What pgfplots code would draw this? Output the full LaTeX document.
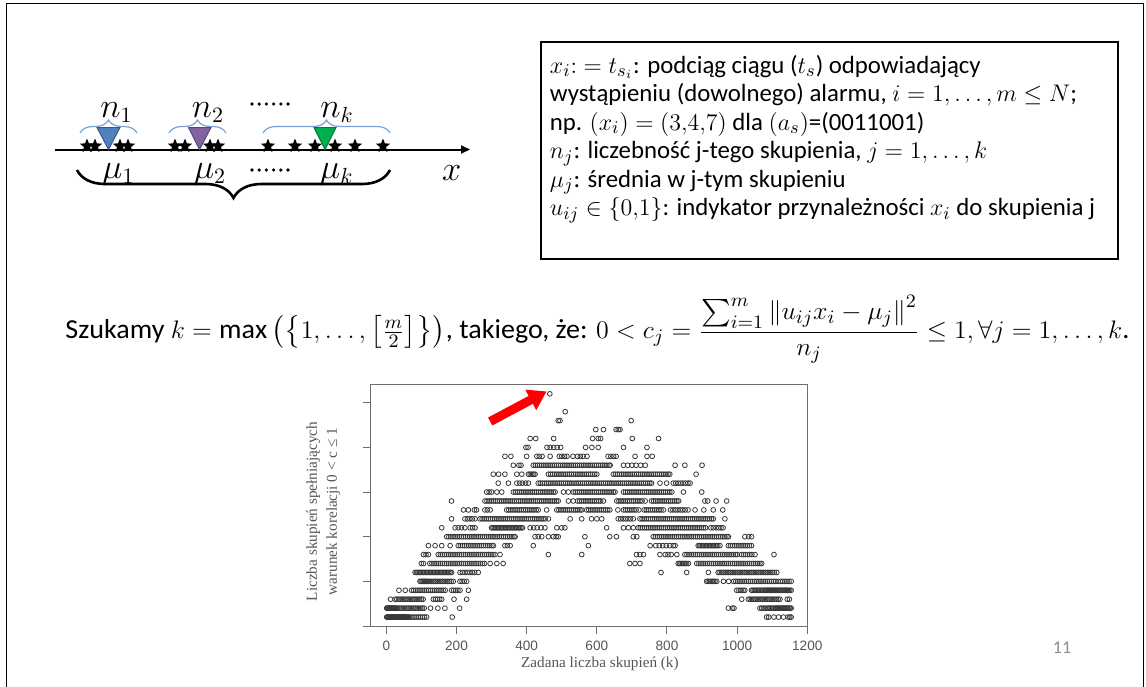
\documentclass[border=0pt]{standalone}
\usepackage{amsmath,amssymb}
\usepackage{graphicx}
\usepackage{fontspec}
\setmainfont{Carlito}
\newfontfamily\lsans{Liberation Sans}
\newfontfamily\lserif{Liberation Serif}
\usepackage{pgfplots}
\pgfplotsset{compat=1.18}
\usetikzlibrary{arrows.meta,decorations.pathreplacing,shapes.geometric}
\definecolor{trblue}{RGB}{79,129,189}
\definecolor{trpurple}{RGB}{128,100,162}
\definecolor{trgreen}{RGB}{0,176,80}
\definecolor{brblue}{RGB}{120,160,215}
\definecolor{plotgray}{RGB}{110,110,110}
\definecolor{labgray}{RGB}{85,85,85}
\definecolor{numgray}{RGB}{140,140,140}
\pgfplotsset{pts/.style={only marks, mark=o, mark size=1.2pt, black!78, mark options={line width=0.4pt}}}

\begin{document}
\begin{tikzpicture}[x=0.5pt,y=-0.5pt]
\useasboundingbox (0,0) rectangle (1146,686);
% slide frame
\draw[line width=0.9pt] (6.5,690) -- (6.5,3.5) -- (1143.5,3.5) -- (1143.5,690);

% --- cluster sketch, top left
\draw[line width=1pt,-{Triangle[length=4.5pt,width=4pt]}] (55,149.5) -- (470,149.5);
\foreach \sx in {87,95,120,128,175,185,210,218,268,295,315,335,355,383}
  \node[star,star points=5,star point ratio=2.3,fill=black,inner sep=0pt,minimum size=7.5pt] at (\sx,146) {};
\filldraw[fill=trblue,draw=trblue!70!black,line width=0.5pt] (97,127.5) -- (120,127.5) -- (108.5,149.5) -- cycle;
\filldraw[fill=trpurple,draw=trpurple!70!black,line width=0.5pt] (188.5,127.5) -- (211,127.5) -- (199.5,149.5) -- cycle;
\filldraw[fill=trgreen,draw=trgreen!70!black,line width=0.5pt] (314,127.5) -- (336,127.5) -- (325,149.5) -- cycle;
\draw[brblue,line width=0.6pt,decorate,decoration={brace,amplitude=6.5pt}] (80,133) -- (137,133);
\draw[brblue,line width=0.6pt,decorate,decoration={brace,amplitude=6.5pt}] (169,133) -- (226,133);
\draw[brblue,line width=0.6pt,decorate,decoration={brace,amplitude=6.5pt}] (263,133) -- (390,133);
\draw[black,line width=1.3pt,decorate,decoration={brace,amplitude=14pt}] (390,170) -- (77,170);
\node[anchor=base,inner sep=0pt] at (116.5,117) {\fontsize{16}{18}\selectfont$n_1$};
\node[anchor=base,inner sep=0pt] at (208,117) {\fontsize{16}{18}\selectfont$n_2$};
\node[anchor=base,inner sep=0pt] at (337,117) {\fontsize{16}{18}\selectfont$n_k$};
\node[anchor=base,inner sep=0pt] at (118.3,178) {\fontsize{16}{18}\selectfont$\mu_1$};
\node[anchor=base,inner sep=0pt] at (210,178) {\fontsize{16}{18}\selectfont$\mu_2$};
\node[anchor=base,inner sep=0pt] at (336.7,178) {\fontsize{16}{18}\selectfont$\mu_k$};
\node[anchor=base,inner sep=0pt] at (451.7,180) {\fontsize{16}{18}\selectfont$x$};
\foreach \d in {0,...,5} {
  \fill (252+\d*7.2,104) circle (1.8);
  \fill (252+\d*7.2,170) circle (1.8);
}

% --- definitions box, top right
\draw[line width=0.8pt] (541,42) rectangle (1118,259);
\begin{scope}[every node/.style={anchor=base west,inner sep=0pt,font=\fontsize{12.4}{14}\selectfont}]
\node at (549.5,73) {$x_i{:}=t_{s_i}$: podciąg ciągu ($t_s$) odpowiadający};
\node at (549.5,101.5) {wystąpieniu (dowolnego) alarmu, $i=1,\dots,m\le N$;};
\node at (549.5,130) {np. $(x_i)=(3{,}4{,}7)$ dla $(a_s)$=(0011001)};
\node at (549.5,158.5) {$n_j$: liczebność j-tego skupienia, $j=1,\dots,k$};
\node at (549.5,187) {$\mu_j$: średnia w j-tym skupieniu};
\node at (549.5,215.5) {$u_{ij}\in\{0{,}1\}$: indykator przynależności $x_i$ do skupienia j};
\end{scope}

% --- criterion line
\node[anchor=north,inner sep=0pt] at (597.5,295) {\resizebox*{532pt}{34pt}{\fontsize{13}{15}\selectfont Szukamy $k=\max\left(\left\{1,\dots,\left[\frac{m}{2}\right]\right\}\right)$, takiego, że: $0<c_j=\dfrac{\sum_{i=1}^{m}\left\|u_{ij}x_i-\mu_j\right\|^2}{n_j}\le 1,\forall j=1,\dots,k$.}};

% page number
\node[text=numgray,font=\fontsize{9}{10}\selectfont] at (1062,648) {11};

% --- scatter plot
\begin{axis}[
  at={(185.35pt,-313pt)}, anchor=south west,
  scale only axis, width=218.3pt, height=121pt,
  xmin=-44.5, xmax=1200, ymin=0, ymax=27.1,
  xtick={0,200,400,600,800,1000,1200},
  ytick={0,5,10,15,20,25}, yticklabels={},
  xtick pos=bottom, ytick pos=left,
  tick align=outside, major tick length=4pt,
  axis line style={plotgray,line width=0.5pt},
  tick style={plotgray,line width=0.5pt},
  /pgf/number format/assume math mode=true,
  /pgf/number format/1000 sep={},
  xticklabel style={font=\lsans\fontsize{6.8}{7}\selectfont,text=labgray},
  xlabel={Zadana liczba skupień (k)},
  xlabel style={font=\lserif\fontsize{7.6}{9}\selectfont,text=labgray,at={(axis description cs:0.525,-0.157)},anchor=center},
  ylabel={Liczba skupień spełniających\\warunek korelacji 0 < c ≤ 1},
  ylabel style={font=\lserif\fontsize{7.6}{10}\selectfont,text=labgray,align=center,at={(axis description cs:-0.109,0.473)},anchor=center},
  clip=false,
]
% y = 1
\addplot[pts] coordinates {(1,1)(3,1)(5,1)(7,1)(9,1)(11,1)(13,1)(15,1)(17,1)(19,1)(21,1)(23,1)(25,1)(27,1)(29,1)(31,1)(33,1)(35,1)(37,1)(39,1)(41,1)(43,1)(45,1)(47,1)(49,1)(51,1)(53,1)(55,1)(57,1)(59,1)(61,1)(63,1)(67,1)(73,1)(79,1)(85,1)(91,1)(97,1)(103,1)(109,1)(115,1)(188,1)(1084,1)(1090,1)(1105,1)(1118,1)(1132,1)(1145,1)(1150,1)(1154,1)};
% y = 2
\addplot[pts] coordinates {(1,2)(3,2)(5,2)(7,2)(9,2)(11,2)(13,2)(15,2)(17,2)(19,2)(21,2)(23,2)(25,2)(27,2)(29,2)(33,2)(38,2)(43,2)(48,2)(53,2)(58,2)(63,2)(68,2)(73,2)(78,2)(83,2)(88,2)(93,2)(98,2)(103,2)(108,2)(126,2)(147,2)(167,2)(209,2)(975,2)(986,2)(991,2)(1065,2)(1070,2)(1075,2)(1080,2)(1085,2)(1089,2)(1093,2)(1097,2)(1101,2)(1105,2)(1109,2)(1112,2)(1115,2)(1118,2)(1121,2)(1124,2)(1127,2)(1130,2)(1133,2)(1136,2)(1139,2)(1142,2)(1145,2)(1148,2)(1151,2)(1154,2)};
% y = 3
\addplot[pts] coordinates {(12,3)(25,3)(30,3)(35,3)(40,3)(45,3)(50,3)(55,3)(60,3)(65,3)(70,3)(75,3)(80,3)(85,3)(90,3)(95,3)(100,3)(105,3)(134,3)(140,3)(146,3)(152,3)(158,3)(193,3)(229,3)(1013,3)(1032,3)(1037,3)(1042,3)(1047,3)(1052,3)(1057,3)(1062,3)(1067,3)(1072,3)(1077,3)(1082,3)(1087,3)(1092,3)(1097,3)(1102,3)(1107,3)(1112,3)(1117,3)(1122,3)(1143,3)(1149,3)};
% y = 4
\addplot[pts] coordinates {(36,4)(54,4)(72,4)(78,4)(84,4)(90,4)(96,4)(102,4)(108,4)(114,4)(120,4)(126,4)(132,4)(138,4)(144,4)(150,4)(156,4)(162,4)(168,4)(186,4)(192,4)(198,4)(204,4)(210,4)(234,4)(999,4)(1005,4)(1011,4)(1017,4)(1022,4)(1041,4)(1045,4)(1049,4)(1053,4)(1057,4)(1061,4)(1065,4)(1069,4)(1073,4)(1077,4)(1080,4)(1083,4)(1086,4)(1089,4)(1092,4)(1095,4)(1098,4)(1101,4)(1104,4)(1107,4)(1110,4)(1113,4)(1116,4)(1119,4)(1122,4)(1125,4)(1128,4)(1131,4)(1134,4)(1137,4)(1140,4)(1143,4)(1146,4)(1150,4)(1154,4)};
% y = 5
\addplot[pts] coordinates {(96,5)(99,5)(102,5)(105,5)(108,5)(111,5)(114,5)(117,5)(120,5)(125,5)(130,5)(135,5)(140,5)(145,5)(150,5)(155,5)(160,5)(165,5)(170,5)(175,5)(180,5)(185,5)(191,5)(210,5)(216,5)(222,5)(229,5)(913,5)(917,5)(921,5)(925,5)(929,5)(933,5)(937,5)(942,5)(961,5)(976,5)(990,5)(996,5)(1002,5)(1008,5)(1014,5)(1020,5)(1026,5)(1032,5)(1038,5)(1044,5)(1050,5)(1056,5)(1062,5)(1068,5)(1074,5)(1080,5)(1086,5)(1092,5)(1098,5)(1104,5)(1110,5)(1117,5)(1124,5)(1130,5)(1136,5)(1142,5)(1148,5)(1154,5)};
% y = 6
\addplot[pts] coordinates {(82,6)(86,6)(90,6)(94,6)(98,6)(102,6)(106,6)(110,6)(114,6)(118,6)(122,6)(126,6)(130,6)(134,6)(138,6)(142,6)(146,6)(150,6)(154,6)(158,6)(162,6)(166,6)(170,6)(174,6)(178,6)(182,6)(186,6)(210,6)(217,6)(224,6)(231,6)(238,6)(245,6)(252,6)(262,6)(783,6)(856,6)(918,6)(946,6)(951,6)(956,6)(961,6)(966,6)(971,6)(976,6)(981,6)(986,6)(991,6)(996,6)(1001,6)(1006,6)(1011,6)(1016,6)(1021,6)(1026,6)(1031,6)(1036,6)(1041,6)(1046,6)(1051,6)(1056,6)(1061,6)(1066,6)(1071,6)(1076,6)(1081,6)(1086,6)(1091,6)(1096,6)(1101,6)(1106,6)(1113,6)};
% y = 7
\addplot[pts] coordinates {(100,7)(106,7)(124,7)(130,7)(136,7)(142,7)(148,7)(154,7)(160,7)(166,7)(172,7)(178,7)(184,7)(190,7)(196,7)(202,7)(208,7)(214,7)(220,7)(226,7)(232,7)(238,7)(244,7)(250,7)(256,7)(262,7)(268,7)(274,7)(280,7)(296,7)(315,7)(333,7)(694,7)(709,7)(723,7)(832,7)(836,7)(840,7)(844,7)(848,7)(852,7)(856,7)(861,7)(885,7)(891,7)(897,7)(903,7)(909,7)(915,7)(921,7)(927,7)(933,7)(939,7)(945,7)(951,7)(957,7)(963,7)(969,7)(975,7)(981,7)(987,7)(993,7)(999,7)(1005,7)(1011,7)(1017,7)(1023,7)(1029,7)(1035,7)(1041,7)(1047,7)(1053,7)(1059,7)(1065,7)(1070,7)};
% y = 8
\addplot[pts] coordinates {(106,8)(113,8)(120,8)(148,8)(154,8)(160,8)(166,8)(172,8)(178,8)(184,8)(190,8)(196,8)(202,8)(208,8)(214,8)(220,8)(226,8)(232,8)(238,8)(244,8)(250,8)(256,8)(262,8)(268,8)(274,8)(280,8)(286,8)(292,8)(298,8)(304,8)(310,8)(324,8)(462,8)(557,8)(713,8)(723,8)(733,8)(780,8)(795,8)(803,8)(812,8)(828,8)(851,8)(857,8)(863,8)(869,8)(875,8)(881,8)(887,8)(893,8)(899,8)(905,8)(911,8)(917,8)(923,8)(929,8)(935,8)(941,8)(947,8)(953,8)(959,8)(965,8)(971,8)(977,8)(983,8)(989,8)(995,8)(1000,8)(1012,8)(1018,8)(1024,8)(1030,8)(1036,8)(1042,8)(1051,8)(1105,8)};
% y = 9
\addplot[pts] coordinates {(120,9)(139,9)(158,9)(182,9)(205,9)(211,9)(217,9)(223,9)(229,9)(235,9)(241,9)(247,9)(253,9)(259,9)(265,9)(271,9)(277,9)(283,9)(289,9)(295,9)(301,9)(305,9)(338,9)(345,9)(353,9)(419,9)(576,9)(752,9)(768,9)(778,9)(788,9)(798,9)(808,9)(818,9)(823,9)(889,9)(893,9)(897,9)(901,9)(905,9)(909,9)(913,9)(917,9)(921,9)(925,9)(929,9)(933,9)(937,9)(941,9)(945,9)(951,9)(975,9)(981,9)(987,9)(993,9)(999,9)(1005,9)(1011,9)(1017,9)(1023,9)(1029,9)(1035,9)(1041,9)};
% y = 10
\addplot[pts] coordinates {(172,10)(178,10)(184,10)(190,10)(196,10)(202,10)(208,10)(214,10)(220,10)(226,10)(232,10)(238,10)(244,10)(250,10)(256,10)(262,10)(268,10)(274,10)(280,10)(286,10)(292,10)(298,10)(304,10)(310,10)(316,10)(322,10)(328,10)(334,10)(340,10)(346,10)(352,10)(358,10)(364,10)(367,10)(424,10)(433,10)(443,10)(462,10)(476,10)(484,10)(490,10)(566,10)(637,10)(656,10)(704,10)(714,10)(761,10)(767,10)(773,10)(779,10)(785,10)(791,10)(797,10)(803,10)(809,10)(815,10)(821,10)(827,10)(833,10)(839,10)(845,10)(851,10)(857,10)(863,10)(869,10)(875,10)(881,10)(887,10)(893,10)(899,10)(905,10)(911,10)(917,10)(923,10)(929,10)(935,10)(941,10)(947,10)(953,10)(959,10)(965,10)(971,10)(975,10)(1022,10)(1033,10)(1041,10)};
% y = 11
\addplot[pts] coordinates {(158,11)(196,11)(205,11)(214,11)(224,11)(239,11)(246,11)(253,11)(300,11)(304,11)(308,11)(312,11)(316,11)(320,11)(324,11)(328,11)(332,11)(336,11)(340,11)(344,11)(348,11)(352,11)(356,11)(360,11)(364,11)(368,11)(372,11)(376,11)(380,11)(384,11)(388,11)(410,11)(420,11)(430,11)(441,11)(452,11)(486,11)(500,11)(509,11)(628,11)(676,11)(690,11)(704,11)(718,11)(724,11)(730,11)(736,11)(742,11)(748,11)(754,11)(760,11)(766,11)(772,11)(778,11)(784,11)(790,11)(796,11)(802,11)(808,11)(814,11)(820,11)(826,11)(832,11)(838,11)(844,11)(850,11)(856,11)(862,11)(868,11)(874,11)(880,11)(886,11)(892,11)(898,11)(904,11)(910,11)(925,11)(932,11)(940,11)(947,11)(954,11)(960,11)};
% y = 12
\addplot[pts] coordinates {(186,12)(224,12)(231,12)(238,12)(245,12)(253,12)(267,12)(273,12)(279,12)(285,12)(291,12)(297,12)(303,12)(309,12)(315,12)(321,12)(327,12)(333,12)(339,12)(345,12)(351,12)(357,12)(363,12)(369,12)(375,12)(381,12)(387,12)(393,12)(399,12)(405,12)(411,12)(417,12)(423,12)(429,12)(435,12)(441,12)(447,12)(453,12)(462,12)(524,12)(557,12)(585,12)(600,12)(614,12)(661,12)(668,12)(675,12)(682,12)(689,12)(696,12)(704,12)(723,12)(729,12)(735,12)(741,12)(747,12)(753,12)(759,12)(765,12)(771,12)(777,12)(783,12)(789,12)(795,12)(801,12)(807,12)(813,12)(819,12)(825,12)(831,12)(837,12)(843,12)(849,12)(855,12)(861,12)(867,12)(873,12)(879,12)(885,12)(891,12)(897,12)(903,12)(909,12)(915,12)(921,12)(927,12)(932,12)(965,12)};
% y = 13
\addplot[pts] coordinates {(220,13)(234,13)(251,13)(257,13)(281,13)(288,13)(296,13)(343,13)(349,13)(355,13)(361,13)(367,13)(373,13)(379,13)(385,13)(391,13)(397,13)(403,13)(409,13)(415,13)(421,13)(427,13)(433,13)(457,13)(486,13)(492,13)(498,13)(504,13)(510,13)(516,13)(522,13)(528,13)(534,13)(540,13)(546,13)(552,13)(557,13)(571,13)(577,13)(583,13)(589,13)(595,13)(601,13)(607,13)(613,13)(619,13)(625,13)(631,13)(637,13)(660,13)(676,13)(682,13)(688,13)(694,13)(700,13)(706,13)(712,13)(720,13)(735,13)(741,13)(747,13)(753,13)(759,13)(765,13)(771,13)(777,13)(783,13)(790,13)(810,13)(817,13)(824,13)(831,13)(838,13)(845,13)(852,13)(860,13)(880,13)(905,13)(932,13)(959,13)};
% y = 14
\addplot[pts] coordinates {(186,14)(281,14)(287,14)(293,14)(299,14)(305,14)(311,14)(317,14)(323,14)(329,14)(335,14)(341,14)(347,14)(353,14)(359,14)(365,14)(371,14)(377,14)(383,14)(389,14)(395,14)(401,14)(407,14)(413,14)(419,14)(425,14)(431,14)(437,14)(443,14)(449,14)(455,14)(461,14)(467,14)(473,14)(479,14)(485,14)(490,14)(519,14)(533,14)(545,14)(551,14)(557,14)(563,14)(569,14)(575,14)(581,14)(587,14)(593,14)(599,14)(605,14)(611,14)(619,14)(657,14)(663,14)(669,14)(675,14)(681,14)(687,14)(693,14)(699,14)(705,14)(711,14)(717,14)(723,14)(729,14)(738,14)(756,14)(762,14)(768,14)(774,14)(780,14)(786,14)(792,14)(798,14)(804,14)(810,14)(816,14)(822,14)(828,14)(833,14)(908,14)(916,14)(940,14)(970,14)};
% y = 15
\addplot[pts] coordinates {(286,15)(293,15)(300,15)(315,15)(329,15)(362,15)(368,15)(374,15)(380,15)(386,15)(392,15)(398,15)(404,15)(410,15)(416,15)(422,15)(428,15)(434,15)(440,15)(446,15)(452,15)(458,15)(464,15)(470,15)(476,15)(481,15)(505,15)(519,15)(533,15)(539,15)(545,15)(551,15)(557,15)(563,15)(569,15)(575,15)(581,15)(587,15)(593,15)(599,15)(605,15)(611,15)(617,15)(623,15)(629,15)(635,15)(641,15)(647,15)(652,15)(676,15)(682,15)(688,15)(694,15)(700,15)(706,15)(712,15)(718,15)(724,15)(730,15)(736,15)(742,15)(748,15)(754,15)(760,15)(766,15)(772,15)(778,15)(784,15)(790,15)(796,15)(802,15)(808,15)(814,15)(847,15)(899,15)};
% y = 16
\addplot[pts] coordinates {(319,16)(348,16)(372,16)(380,16)(388,16)(397,16)(405,16)(433,16)(439,16)(445,16)(451,16)(457,16)(463,16)(469,16)(475,16)(481,16)(487,16)(493,16)(499,16)(505,16)(511,16)(517,16)(523,16)(529,16)(535,16)(541,16)(547,16)(553,16)(559,16)(565,16)(571,16)(577,16)(583,16)(589,16)(595,16)(601,16)(607,16)(613,16)(619,16)(625,16)(631,16)(637,16)(643,16)(649,16)(655,16)(661,16)(667,16)(673,16)(679,16)(685,16)(691,16)(697,16)(703,16)(709,16)(715,16)(721,16)(727,16)(733,16)(739,16)(745,16)(751,16)(756,16)(780,16)(799,16)(818,16)(825,16)(832,16)(839,16)(846,16)(853,16)(860,16)(866,16)};
% y = 17
\addplot[pts] coordinates {(305,17)(320,17)(338,17)(372,17)(386,17)(405,17)(410,17)(415,17)(420,17)(424,17)(462,17)(468,17)(474,17)(480,17)(486,17)(492,17)(498,17)(504,17)(510,17)(516,17)(522,17)(528,17)(534,17)(540,17)(546,17)(552,17)(558,17)(564,17)(570,17)(576,17)(582,17)(588,17)(594,17)(600,17)(647,17)(653,17)(659,17)(665,17)(671,17)(677,17)(683,17)(689,17)(695,17)(701,17)(707,17)(713,17)(719,17)(725,17)(731,17)(737,17)(743,17)(749,17)(755,17)(761,17)(767,17)(773,17)(779,17)(785,17)(791,17)(797,17)(803,17)(808,17)(883,17)};
% y = 18
\addplot[pts] coordinates {(362,18)(378,18)(384,18)(419,18)(425,18)(431,18)(437,18)(443,18)(449,18)(455,18)(461,18)(467,18)(473,18)(479,18)(485,18)(491,18)(497,18)(503,18)(509,18)(515,18)(521,18)(527,18)(533,18)(539,18)(545,18)(551,18)(557,18)(563,18)(569,18)(575,18)(581,18)(587,18)(593,18)(599,18)(605,18)(611,18)(617,18)(623,18)(629,18)(635,18)(638,18)(676,18)(688,18)(700,18)(712,18)(725,18)(738,18)(823,18)(851,18)(900,18)};
% y = 19 .. 26
\addplot[pts] coordinates {(338,19)(355,19)(400,19)(429,19)(436,19)(444,19)(467,19)(493,19)(500,19)(508,19)(515,19)(532,19)(545,19)(553,19)(561,19)(572,19)(632,19)(640,19)(648,19)(655,19)(709,19)(743,19)(758,19)};
\addplot[pts] coordinates {(398,20)(404,20)(458,20)(467,20)(477,20)(487,20)(497,20)(568,20)(586,20)(604,20)(676,20)(743,20)};
\addplot[pts] coordinates {(410,21)(426,21)(477,21)(588,21)(604,21)(611,21)(701,21)(776,21)};
\addplot[pts] coordinates {(597,22)(619,22)(655,22)(661,22)(666,22)};
\addplot[pts] coordinates {(490,23)(495,23)(698,23)};
\addplot[pts] coordinates {(510,24)};
\addplot[pts] coordinates {(466,26)};
\draw[red,line width=4.5pt,-{Triangle[length=9pt,width=11pt]}] (axis cs:296,22.9) -- (axis cs:457,26.27);
\end{axis}
\end{tikzpicture}
\end{document}
